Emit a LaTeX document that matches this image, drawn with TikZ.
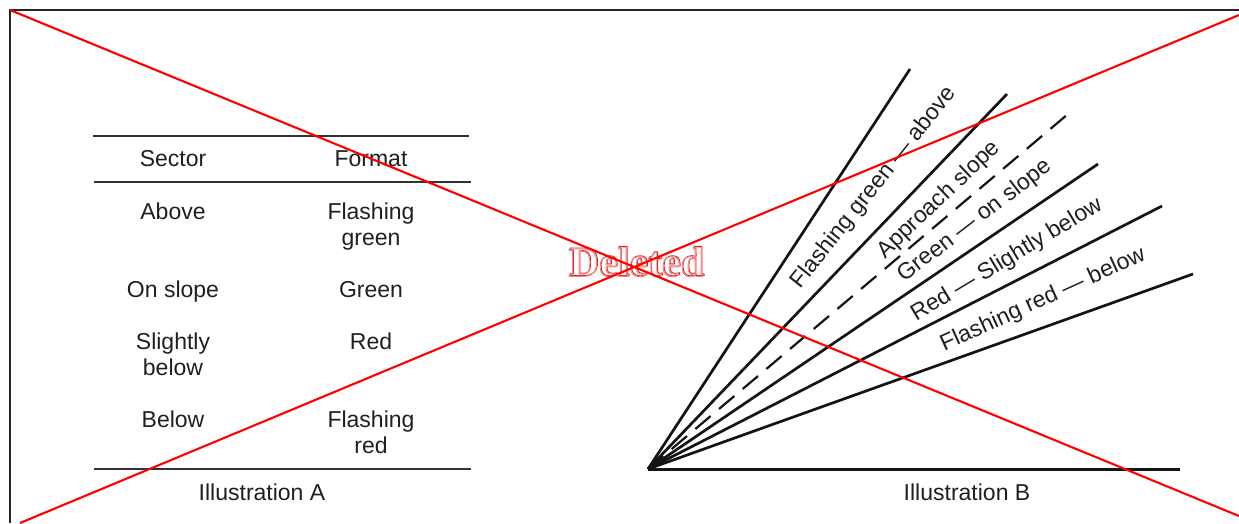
\documentclass[tikz,border=0pt]{standalone}
\usepackage{fontspec}
\setmainfont{Liberation Sans}
\newfontfamily\delfont{Liberation Serif}
\newcommand{\outlineon}{\special{pdf:literal direct 1 Tr 0.9 w}}
\newcommand{\outlineoff}{\special{pdf:literal direct 0 Tr}}
\begin{document}
\begin{tikzpicture}[x=1pt,y=-1pt,
  rule/.style={draw=black!80, line width=1.3pt},
  frameline/.style={draw=black!85, line width=1.4pt},
  fanline/.style={draw=black!92, line width=2.7pt},
  xline/.style={draw=red, line width=2.1pt},
  lbl/.style={font=\fontsize{23}{26}\selectfont, inner sep=0pt, text=black!88},
  cell/.style={lbl, anchor=base, align=center},
  del/.style={font=\delfont\bfseries\fontsize{42}{44}\selectfont, inner sep=0pt}]
\useasboundingbox (0,0) rectangle (1239,523);
% frame
\coordinate (f0) at (10,10);
\coordinate (f1) at (1239,10);
\coordinate (f2) at (10,523);
\draw[frameline] (f1) -- (f0) -- (f2);
% table rules
\coordinate (t1a) at (93,136); \coordinate (t1b) at (469,136);
\coordinate (t2a) at (94,182); \coordinate (t2b) at (471,182);
\coordinate (t3a) at (94,469); \coordinate (t3b) at (471,469);
\draw[rule] (t1a) -- (t1b);
\draw[rule] (t2a) -- (t2b);
\draw[rule] (t3a) -- (t3b);
% table text
\node[cell] (hs) at (173,166) {Sector};
\node[cell] (hf) at (371,166) {Format};
\node[cell] (s1) at (173,219) {Above};
\node[cell] (f1a) at (371,219) {Flashing};
\node[cell] (f1b) at (371,245) {green};
\node[cell] (s2) at (173,297) {On slope};
\node[cell] (f2a) at (371,297) {Green};
\node[cell] (s3a) at (173,349) {Slightly};
\node[cell] (s3b) at (173,375) {below};
\node[cell] (f3a) at (371,349) {Red};
\node[cell] (s4) at (173,427) {Below};
\node[cell] (f4a) at (371,427) {Flashing};
\node[cell] (f4b) at (371,453) {red};
\node[cell] (illA) at (262,500) {Illustration A};
\node[cell] (illB) at (967,500) {Illustration B};
% fan
\coordinate (O) at (648,469);
\coordinate (e1) at (910,69);
\coordinate (e2) at (1007,94);
\coordinate (e3) at (1068,114);
\coordinate (e4) at (1098,164);
\coordinate (e5) at (1162,206);
\coordinate (e6) at (1193,274);
\coordinate (e7) at (1180,469);
\draw[fanline] (O) -- (e1);
\draw[fanline] (O) -- (e2);
\draw[fanline, line width=2.2pt, dash pattern=on 20pt off 11pt] (O) -- (e3);
\draw[fanline] (O) -- (e4);
\draw[fanline] (O) -- (e5);
\draw[fanline] (O) -- (e6);
\draw[fanline, line width=3pt] (O) -- (e7);
% fan labels
\node[lbl, rotate=51.5] (l1) at (874,188) {Flashing green — above};
\node[lbl, rotate=43.5] (l2) at (939,200) {Approach slope};
\node[lbl, rotate=37.5] (l3) at (975,221) {Green — on slope};
\node[lbl, rotate=31] (l4) at (1007,260) {Red — Slightly below};
\node[lbl, rotate=24.5] (l5) at (1043,300) {Flashing red — below};
% watermark (outlined text)
\coordinate (dc) at (636,262);
\node[del, text=red!75!black!85, shift={(0.9pt,0.9pt)}] (dshadow) at (dc) {\outlineon Deleted\outlineoff};
\node[del, text=red!50] (dmain) at (dc) {\outlineon Deleted\outlineoff};
% red cross
\coordinate (r1a) at (10,10); \coordinate (r1b) at (1239,516);
\coordinate (r2a) at (20,523); \coordinate (r2b) at (1239,15);
\draw[xline] (r1a) -- (r1b);
\draw[xline] (r2a) -- (r2b);
\end{tikzpicture}
\end{document}
